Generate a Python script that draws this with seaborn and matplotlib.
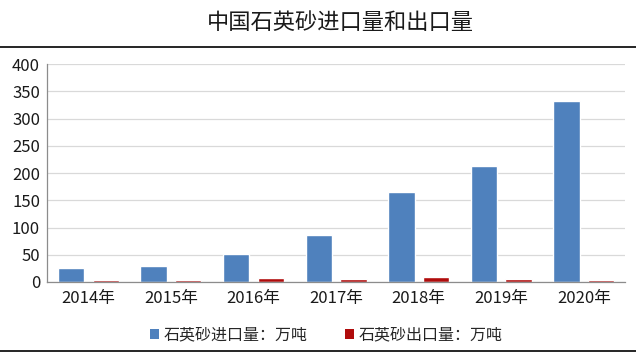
import matplotlib
matplotlib.use("Agg")
import matplotlib.pyplot as plt
from matplotlib.lines import Line2D
from matplotlib.patches import Patch
import pandas as pd
import seaborn as sns

# ── 데이터 ──────────────────────────────────────
years = ["2014年", "2015年", "2016年", "2017年", "2018年", "2019年", "2020年"]
import_vol = [25, 30, 52, 87, 165, 213, 333]
export_vol = [3, 3, 8, 6, 10, 6, 4]
series_names = ["石英砂进口量：万吨", "石英砂出口量：万吨"]
colors = ["#4F81BD", "#B00C0C"]

df = pd.DataFrame({
    "year": years * 2,
    "value": import_vol + export_vol,
    "series": [series_names[0]] * len(years) + [series_names[1]] * len(years),
})

sns.set_style("white")
plt.rcParams["font.family"] = ["Noto Sans CJK SC", "DejaVu Sans"]

fig = plt.figure(figsize=(6.36, 3.59), dpi=100)
ax = fig.add_axes([0.074, 0.2145, 0.909, 0.607])

sns.barplot(data=df, x="year", y="value", hue="series", palette=colors,
            width=0.84, gap=0.24, ax=ax, legend=False, saturation=1)

ax.set_ylim(0, 400)
ax.set_yticks(range(0, 401, 50))
ax.set_xlim(-0.5, len(years) - 0.5)
ax.yaxis.grid(True, color="#d9d9d9", linewidth=0.9)
ax.set_axisbelow(True)
ax.set_xlabel("")
ax.set_ylabel("")
for s in ["top", "right"]:
    ax.spines[s].set_visible(False)
for s in ["left", "bottom"]:
    ax.spines[s].set_color("#8c8c8c")
    ax.spines[s].set_linewidth(0.9)
ax.tick_params(axis="both", length=0, labelsize=12, colors="#1a1a1a")
ax.tick_params(axis="y", pad=5)
ax.tick_params(axis="x", pad=6)

fig.text(0.535, 0.938, "中国石英砂进口量和出口量", ha="center", va="center",
         fontsize=16, color="#1a1a1a")

# 위/아래 검은 선
fig.add_artist(Line2D([0, 1], [0.869, 0.869], color="black", linewidth=1.2))
fig.add_artist(Line2D([0, 1], [0.023, 0.023], color="black", linewidth=1.2))

handles = [Patch(facecolor=c, edgecolor="none") for c in colors]
fig.legend(handles, series_names, loc="center", bbox_to_anchor=(0.513, 0.067),
           ncol=2, frameon=False, fontsize=11.5, handlelength=0.6, handleheight=0.6,
           handletextpad=0.3, columnspacing=2.3)

plt.savefig("out.png", dpi=100)
